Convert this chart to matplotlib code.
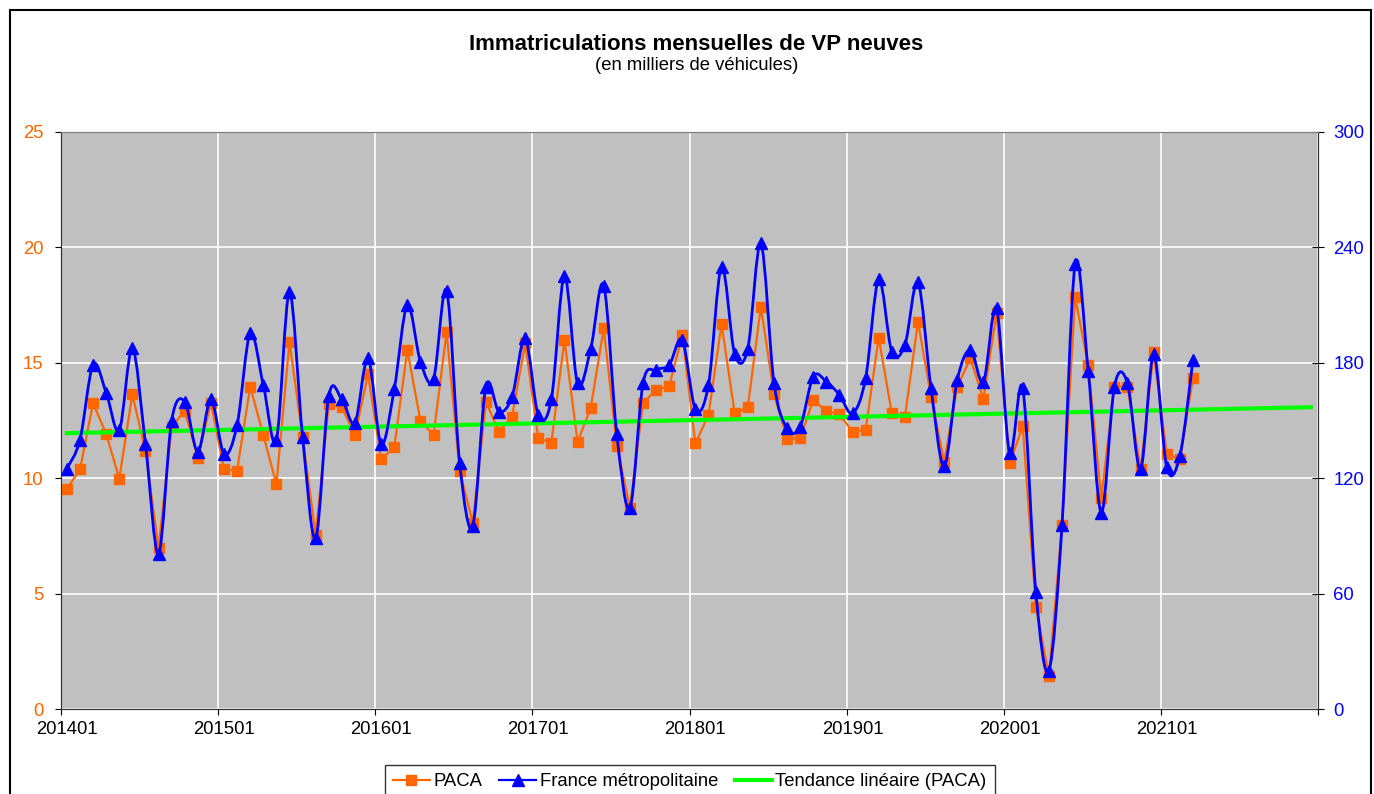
import numpy as np
import matplotlib.pyplot as plt
from matplotlib.path import Path
from matplotlib.patches import PathPatch
from matplotlib.lines import Line2D

plt.rcParams['font.family'] = ['Liberation Sans', 'DejaVu Sans']

# Monthly registrations, 201401 .. 202103
paca = [9.53, 10.38, 13.25, 11.92, 9.98, 13.63, 11.19, 6.96, 12.23, 12.91, 10.89, 13.27,
        10.38, 10.33, 13.97, 11.87, 9.74, 15.91, 11.77, 7.54, 13.21, 13.07, 11.87, 14.51,
        10.82, 11.34, 15.55, 12.49, 11.87, 16.32, 10.31, 8.07, 13.31, 12.02, 12.67, 15.85,
        11.73, 11.54, 15.99, 11.58, 13.03, 16.49, 11.41, 8.70, 13.27, 13.82, 13.99, 16.20,
        11.51, 12.74, 16.68, 12.81, 13.07, 17.43, 13.65, 11.70, 11.73, 13.39, 12.91, 12.77,
        12.02, 12.09, 16.09, 12.81, 12.64, 16.78, 13.53, 10.71, 13.97, 15.19, 13.43, 17.17,
        10.64, 12.26, 4.43, 1.43, 7.97, 17.84, 14.90, 9.13, 13.97, 13.97, 10.38, 15.45,
        11.05, 10.82, 14.33]

france = [125.0, 140.0, 179.0, 164.5, 145.0, 187.5, 137.8, 80.6, 149.9, 159.8, 133.8, 161.0,
          132.6, 147.7, 195.3, 168.5, 139.9, 216.6, 141.6, 88.7, 162.7, 161.0, 148.9, 182.3,
          137.8, 166.2, 210.0, 180.6, 171.4, 217.5, 127.7, 95.3, 167.6, 154.6, 162.4, 192.7,
          152.9, 161.0, 225.1, 169.3, 187.0, 220.1, 142.8, 104.4, 169.3, 176.3, 178.8, 191.9,
          155.9, 168.5, 230.0, 184.6, 187.3, 242.1, 169.7, 145.9, 146.8, 172.8, 170.2, 163.3,
          153.7, 171.9, 223.4, 185.8, 189.3, 221.9, 166.7, 126.3, 171.1, 186.7, 170.2, 208.3,
          132.9, 166.7, 61.0, 19.9, 95.7, 231.2, 175.9, 102.1, 167.6, 169.3, 124.6, 184.4,
          125.7, 131.5, 181.5]

year_labels = ['201401', '201501', '201601', '201701', '201801', '201901', '202001', '202101']

orange = '#FF6600'
blue = '#0000FF'
green = '#00FF00'

n = len(paca)
x = np.arange(n) + 0.45

fig = plt.figure(figsize=(13.74, 7.94), dpi=100)
fig.subplots_adjust(left=61/1374, right=1318/1374, bottom=1-709/794, top=1-132/794)
ax = fig.add_subplot(111)
ax.set_facecolor('#C0C0C0')
ax2 = ax.twinx()

ax.set_xlim(0, 96)
ax.set_ylim(0, 25)
ax2.set_ylim(0, 300)

# PACA
ax.plot(x, paca, color=orange, lw=1.6, marker='s', ms=7.5, mec=orange, zorder=3)

# linear trend of PACA, extended to end of 2021
coef = np.polyfit(x, paca, 1)
xt = np.arange(96) + 0.45
ax2.plot(xt, np.polyval(coef, xt) * 12, color=green, lw=3, zorder=2)

# France, smoothed line (cubic bezier through the points)
fr = np.array(france)
pts = np.column_stack([x, fr])
ext = np.vstack([pts[0], pts, pts[-1]])
verts = [tuple(pts[0])]
codes = [Path.MOVETO]
for i in range(n - 1):
    p0, p1, p2, p3 = ext[i], ext[i + 1], ext[i + 2], ext[i + 3]
    c1 = p1 + (p2 - p0) / 6
    c2 = p2 - (p3 - p1) / 6
    verts += [tuple(c1), tuple(c2), tuple(p2)]
    codes += [Path.CURVE4] * 3
ax2.add_patch(PathPatch(Path(verts, codes), fill=False, edgecolor=blue, lw=2, zorder=3))
ax2.plot(x, fr, linestyle='none', marker='^', ms=9, color=blue, zorder=4)

# axes styling
ax.set_xticks(np.arange(0, 97, 12))
ax.set_xticklabels([])
ax.set_xticks(np.arange(0, 85, 12) + 0.45, minor=True)
ax.set_xticklabels(year_labels, minor=True, fontsize=13.3)
ax.tick_params(axis='x', which='minor', length=0, pad=9)
ax.tick_params(axis='x', which='major', length=4, direction='out')
ax.set_yticks(np.arange(0, 26, 5))
ax.tick_params(axis='y', colors='black', labelcolor=orange, labelsize=13.3, length=4.5, pad=8)
ax2.set_yticks(np.arange(0, 301, 60))
ax2.tick_params(axis='y', labelcolor=blue, labelsize=13.3, length=8, direction='inout', pad=7)
ax.grid(True, which='major', color='white', lw=1.2)
ax.set_axisbelow(True)
for a in (ax, ax2):
    a.spines['top'].set_color('#808080')
    a.spines['left'].set_color('#333333')
    a.spines['bottom'].set_color('#333333')
    a.spines['right'].set_color('#333333')

fig.text(0.507, 1 - 45/794, 'Immatriculations mensuelles de VP neuves', ha='center', va='center',
         fontsize=16, fontweight='bold')
fig.text(0.507, 1 - 65/794, '(en milliers de véhicules)', ha='center', va='center', fontsize=13.3)

handles = [Line2D([], [], color=orange, lw=1.6, marker='s', ms=7.5),
           Line2D([], [], color=blue, lw=1.6, marker='^', ms=8),
           Line2D([], [], color=green, lw=3)]
leg = fig.legend(handles, ['PACA', 'France métropolitaine', 'Tendance linéaire (PACA)'],
                 loc='upper center', bbox_to_anchor=(0.502, 1 - 765/794), ncol=3,
                 fontsize=13.3, frameon=True, fancybox=False, edgecolor='black',
                 handlelength=2.0, columnspacing=0.9, borderpad=0.45, handletextpad=0.2,
                 borderaxespad=0)
leg.get_frame().set_linewidth(1)

# outer frame
fig.add_artist(Line2D([10/1374, 10/1374], [-0.05, 1 - 10/794], color='black', lw=1.5))
fig.add_artist(Line2D([10/1374, 1371/1374], [1 - 10/794, 1 - 10/794], color='black', lw=1.5))
fig.add_artist(Line2D([1371/1374, 1371/1374], [-0.05, 1 - 10/794], color='black', lw=1.5))

fig.savefig('out.png', dpi=100)
